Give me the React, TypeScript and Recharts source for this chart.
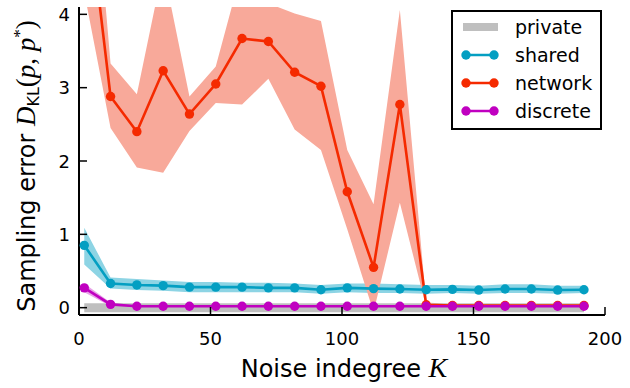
import { ComposedChart, Line, Area, XAxis, YAxis, Legend } from "recharts"

const K = [2, 12, 22, 32, 42, 52, 62, 72, 82, 92, 102, 112, 122, 132, 142, 152, 162, 172, 182, 192]

const privateMean = [0, 0, 0, 0, 0, 0, 0, 0, 0, 0, 0, 0, 0, 0, 0, 0, 0, 0, 0, 0]

const sharedMean = [0.85, 0.33, 0.31, 0.3, 0.28, 0.28, 0.28, 0.27, 0.27, 0.245, 0.27, 0.26, 0.255, 0.245, 0.25, 0.24, 0.255, 0.255, 0.24, 0.245]
const sharedLow = [0.59, 0.26, 0.24, 0.23, 0.21, 0.21, 0.21, 0.21, 0.21, 0.19, 0.21, 0.2, 0.2, 0.19, 0.2, 0.19, 0.2, 0.2, 0.19, 0.2]
const sharedHigh = [1.09, 0.41, 0.39, 0.37, 0.35, 0.35, 0.34, 0.34, 0.33, 0.31, 0.33, 0.33, 0.32, 0.31, 0.31, 0.3, 0.32, 0.32, 0.3, 0.3]

const networkMean = [5.9, 2.88, 2.4, 3.23, 2.64, 3.05, 3.67, 3.63, 3.21, 3.02, 1.58, 0.55, 2.77, 0.04, 0.03, 0.03, 0.03, 0.03, 0.03, 0.03]
const networkLow = [4.3, 2.45, 1.91, 1.84, 2.41, 2.79, 2.77, 3.12, 2.43, 2.15, 1.07, -0.06, 1.43, 0.01, 0.01, 0.01, 0.01, 0.01, 0.01, 0.01]
const networkHigh = [7.5, 3.33, 2.91, 4.64, 2.88, 3.29, 4.62, 4.15, 4.01, 3.91, 2.15, 1.41, 4.06, 0.07, 0.05, 0.05, 0.05, 0.05, 0.05, 0.05]

const discreteMean = [0.27, 0.045, 0.02, 0.02, 0.02, 0.02, 0.02, 0.02, 0.02, 0.02, 0.02, 0.02, 0.02, 0.02, 0.02, 0.02, 0.02, 0.02, 0.02, 0.02]
const discreteLow = [0.21, 0.02, 0.01, 0.01, 0.01, 0.01, 0.01, 0.01, 0.01, 0.01, 0.01, 0.01, 0.01, 0.01, 0.01, 0.01, 0.01, 0.01, 0.01, 0.01]
const discreteHigh = [0.33, 0.07, 0.03, 0.03, 0.03, 0.03, 0.03, 0.03, 0.03, 0.03, 0.03, 0.03, 0.03, 0.03, 0.03, 0.03, 0.03, 0.03, 0.03, 0.03]

const xTicks = [0, 50, 100, 150, 200]
const yTicks = [0, 1, 2, 3, 4]

const SANS = "DejaVu Sans"
const MATH = "Liberation Serif"

const data = K.map((k, i) => ({
  k,
  private: privateMean[i],
  shared: sharedMean[i],
  sharedBand: [sharedLow[i], sharedHigh[i]],
  network: networkMean[i],
  networkBand: [networkLow[i], networkHigh[i]],
  discrete: discreteMean[i],
  discreteBand: [discreteLow[i], discreteHigh[i]],
}))

const legendItems = [
  { name: "private", color: "#bfbfbf", bar: true },
  { name: "shared", color: "#049fc2", bar: false },
  { name: "network", color: "#f52a00", bar: false },
  { name: "discrete", color: "#c000c0", bar: false },
]

function YTick({ x, y, payload }: { x?: number; y?: number; payload?: { value: number } }) {
  return (
    <g>
      <line x1={x} x2={(x ?? 0) + 8} y1={y} y2={y} stroke="#000" strokeWidth={1.5} />
      <text x={(x ?? 0) - 9} y={y} dy={6.5} textAnchor="end" fontFamily={SANS} fontSize={18} fill="#000">
        {payload?.value}
      </text>
    </g>
  )
}

function XTick({ x, y, payload }: { x?: number; y?: number; payload?: { value: number } }) {
  return (
    <g>
      <line x1={x} x2={x} y1={y} y2={(y ?? 0) - 8} stroke="#000" strokeWidth={1.5} />
      <text x={x} y={(y ?? 0) + 30} textAnchor="middle" fontFamily={SANS} fontSize={18} fill="#000">
        {payload?.value}
      </text>
    </g>
  )
}

function LegendBox() {
  return (
    <div
      style={{
        width: 147,
        height: 116,
        border: "2px solid #000",
        background: "#fff",
        boxSizing: "content-box",
      }}
    >
      <svg width={147} height={116}>
        {legendItems.map((it, i) => {
          const cy = 15 + i * 28
          return (
            <g key={it.name}>
              {it.bar ? (
                <line x1={10} x2={45} y1={cy} y2={cy} stroke={it.color} strokeWidth={8} />
              ) : (
                <g>
                  <line x1={13} x2={41} y1={cy} y2={cy} stroke={it.color} strokeWidth={2.5} />
                  <circle cx={13} cy={cy} r={4.7} fill={it.color} />
                  <circle cx={41} cy={cy} r={4.7} fill={it.color} />
                </g>
              )}
              <text x={62} y={cy + 7} fontFamily={SANS} fontSize={19} fill="#000">
                {it.name}
              </text>
            </g>
          )
        })}
      </svg>
    </div>
  )
}

function YLabel() {
  return (
    <text transform="translate(35,166) rotate(-90)" textAnchor="middle" fontFamily={SANS} fontSize={24} fill="#000">
      Sampling error{" "}
      <tspan fontFamily={MATH} fontStyle="italic" fontSize={27}>D</tspan>
      <tspan fontSize={16} dy={4}>KL</tspan>
      <tspan fontFamily={MATH} fontSize={27} dy={-4}>(</tspan>
      <tspan fontFamily={MATH} fontStyle="italic" fontSize={27}>p</tspan>
      <tspan fontFamily={MATH} fontSize={27}>, </tspan>
      <tspan fontFamily={MATH} fontStyle="italic" fontSize={27}>p</tspan>
      <tspan fontFamily={MATH} fontSize={17} dy={-10}>*</tspan>
      <tspan fontFamily={MATH} fontSize={27} dy={10}>)</tspan>
    </text>
  )
}

function XLabel() {
  return (
    <text x={344} y={377} textAnchor="middle" fontFamily={SANS} fontSize={24} fill="#000">
      Noise indegree{" "}
      <tspan fontFamily={MATH} fontStyle="italic" fontSize={28}>K</tspan>
    </text>
  )
}

export default function App() {
  return (
    <div style={{ position: "absolute", left: 0, top: 0, width: 630, height: 388, background: "#fff" }}>
      <style>{`body{margin:0}`}</style>
      <ComposedChart width={630} height={388} data={data} margin={{ top: 7, right: 25, left: 0, bottom: 0 }}>
        <XAxis
          dataKey="k"
          type="number"
          domain={[0, 200]}
          ticks={xTicks}
          height={73}
          tickSize={0}
          tickMargin={0}
          tick={<XTick />}
          axisLine={{ stroke: "#000", strokeWidth: 2 }}
          tickLine={false}
          label={{ content: () => <XLabel /> }}
        />
        <YAxis
          type="number"
          domain={[-0.1, 4.1]}
          ticks={yTicks}
          allowDataOverflow
          width={79}
          tickSize={0}
          tickMargin={0}
          tick={<YTick />}
          axisLine={{ stroke: "#000", strokeWidth: 2 }}
          tickLine={false}
          label={{ content: () => <YLabel /> }}
        />
        <Area dataKey="sharedBand" type="linear" stroke="none" fill="#8dd4e4" fillOpacity={1} isAnimationActive={false} />
        <Area dataKey="networkBand" type="linear" stroke="none" fill="#f8a99a" fillOpacity={1} isAnimationActive={false} />
        <Area dataKey="discreteBand" type="linear" stroke="none" fill="#e8a3e8" fillOpacity={1} isAnimationActive={false} />
        <Line dataKey="private" type="linear" stroke="#bfbfbf" strokeWidth={9} dot={false} isAnimationActive={false} />
        <Line
          dataKey="shared"
          type="linear"
          stroke="#049fc2"
          strokeWidth={2.6}
          dot={{ r: 4.7, fill: "#049fc2", stroke: "none" }}
          isAnimationActive={false}
        />
        <Line
          dataKey="network"
          type="linear"
          stroke="#f52a00"
          strokeWidth={2.6}
          dot={{ r: 4.7, fill: "#f52a00", stroke: "none" }}
          isAnimationActive={false}
        />
        <Line
          dataKey="discrete"
          type="linear"
          stroke="#c000c0"
          strokeWidth={2.6}
          dot={{ r: 4.7, fill: "#c000c0", stroke: "none" }}
          isAnimationActive={false}
        />
        <Legend
          layout="horizontal"
          verticalAlign="middle"
          align="center"
          content={() => <LegendBox />}
          wrapperStyle={{ position: "absolute", left: 451, top: 10, width: 151, height: 120 }}
        />
      </ComposedChart>
    </div>
  )
}
